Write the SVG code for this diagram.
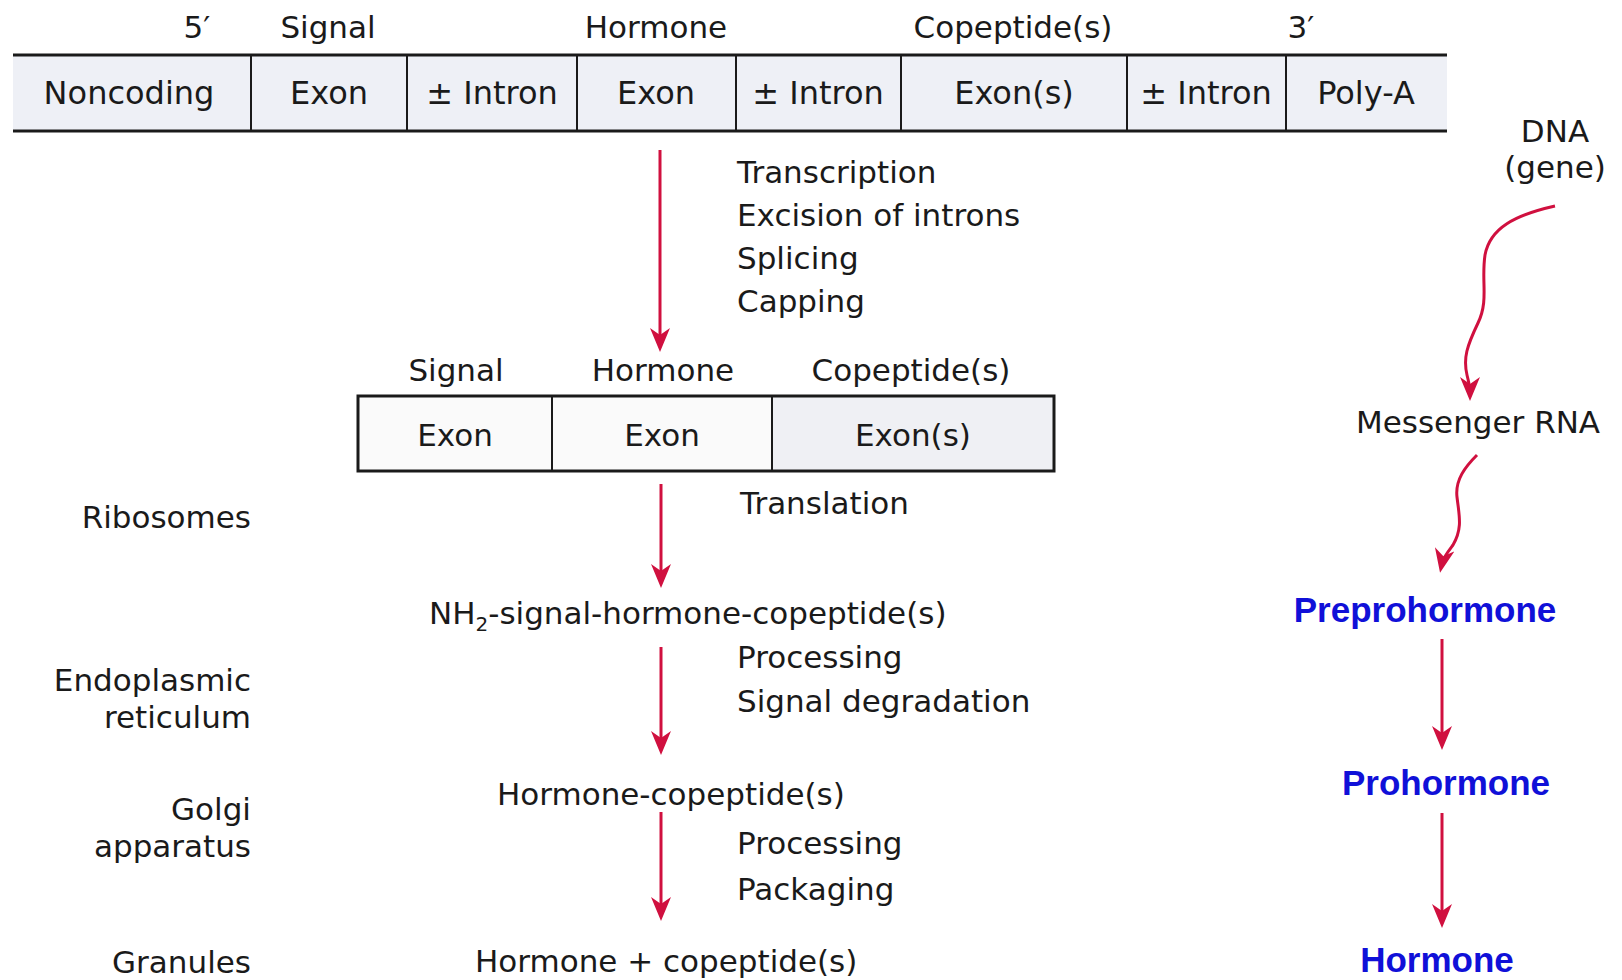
<svg xmlns="http://www.w3.org/2000/svg" width="1622" height="980" viewBox="0 0 1622 980">
<style>
.t{font-family:"DejaVu Sans","Liberation Sans",sans-serif;font-size:31px;fill:#1a1a1a}
.r{font-size:32px}
.m{text-anchor:middle}
.e{text-anchor:end}
.b{font-family:"Liberation Sans",Arial,sans-serif;font-weight:bold;font-size:35px;fill:#1010d8}
.hl{stroke:#1a1a1a;stroke-width:3;fill:none}
.vl{stroke:#1a1a1a;stroke-width:2;fill:none}
.ar{stroke:#d0103f;stroke-width:3;fill:none;marker-end:url(#ah)}
</style>
<defs>
<marker id="ah" viewBox="0 0 24 20" refX="14" refY="10" markerWidth="24" markerHeight="20" markerUnits="userSpaceOnUse" orient="auto">
<path d="M0,0 L24,10 L0,20 L7,10 Z" fill="#d0103f"/>
</marker>
</defs>
<rect width="1622" height="980" fill="#ffffff"/>

<g id="dna-gene">
<rect x="13" y="55" width="1434" height="76" fill="#eef0f6"/>
<line class="hl" x1="13" y1="55" x2="1447" y2="55"/>
<line class="hl" x1="13" y1="131" x2="1447" y2="131"/>
<line class="vl" x1="251" y1="55" x2="251" y2="131"/>
<line class="vl" x1="407" y1="55" x2="407" y2="131"/>
<line class="vl" x1="577" y1="55" x2="577" y2="131"/>
<line class="vl" x1="736" y1="55" x2="736" y2="131"/>
<line class="vl" x1="901" y1="55" x2="901" y2="131"/>
<line class="vl" x1="1127" y1="55" x2="1127" y2="131"/>
<line class="vl" x1="1286" y1="55" x2="1286" y2="131"/>
<text class="t m" x="197" y="38">5′</text>
<text class="t m" x="328" y="38">Signal</text>
<text class="t m" x="656" y="38">Hormone</text>
<text class="t m" x="1013" y="38">Copeptide(s)</text>
<text class="t m" x="1301" y="38">3′</text>
<text class="t r m" x="129" y="104">Noncoding</text>
<text class="t r m" x="329" y="104">Exon</text>
<text class="t r m" x="492" y="104">± Intron</text>
<text class="t r m" x="656" y="104">Exon</text>
<text class="t r m" x="818" y="104">± Intron</text>
<text class="t r m" x="1014" y="104">Exon(s)</text>
<text class="t r m" x="1206" y="104">± Intron</text>
<text class="t r m" x="1366" y="104">Poly-A</text>
</g>

<g id="transcription-steps">
<text class="t" x="737" y="183">Transcription</text>
<text class="t" x="737" y="226">Excision of introns</text>
<text class="t" x="737" y="269">Splicing</text>
<text class="t" x="737" y="312">Capping</text>
</g>

<g id="mrna">
<rect x="358" y="396" width="414" height="75" fill="#fafafa"/>
<rect x="772" y="396" width="282" height="75" fill="#eff0f4"/>
<rect x="358" y="396" width="696" height="75" class="hl"/>
<line class="vl" x1="552" y1="396" x2="552" y2="471"/>
<line class="vl" x1="772" y1="396" x2="772" y2="471"/>
<text class="t m" x="456" y="381">Signal</text>
<text class="t m" x="663" y="381">Hormone</text>
<text class="t m" x="911" y="381">Copeptide(s)</text>
<text class="t m" x="455" y="446">Exon</text>
<text class="t m" x="662" y="446">Exon</text>
<text class="t m" x="913" y="446">Exon(s)</text>
</g>

<g id="translation-label">
<text class="t" x="740" y="514">Translation</text>
</g>

<g id="preprohormone-seq">
<text class="t" x="429" y="624">NH<tspan font-size="20" dy="7">2</tspan><tspan dy="-7">-signal-hormone-copeptide(s)</tspan></text>
</g>

<g id="processing-1">
<text class="t" x="737" y="668">Processing</text>
<text class="t" x="737" y="712">Signal degradation</text>
</g>

<g id="prohormone-seq">
<text class="t" x="497" y="805">Hormone-copeptide(s)</text>
</g>

<g id="processing-2">
<text class="t" x="737" y="854">Processing</text>
<text class="t" x="737" y="900">Packaging</text>
</g>

<g id="granule-content">
<text class="t" x="475" y="972">Hormone + copeptide(s)</text>
</g>

<g id="locations">
<text class="t e" x="251" y="528">Ribosomes</text>
<text class="t e" x="251" y="691">Endoplasmic</text>
<text class="t e" x="251" y="728">reticulum</text>
<text class="t e" x="251" y="820">Golgi</text>
<text class="t e" x="251" y="857">apparatus</text>
<text class="t e" x="251" y="973">Granules</text>
</g>

<g id="dna-label">
<text class="t m" x="1555" y="142">DNA</text>
<text class="t m" x="1555" y="178">(gene)</text>
</g>
<g id="messenger-rna">
<text class="t m" x="1478" y="433">Messenger RNA</text>
</g>
<g id="preprohormone"><text class="b m" x="1425" y="622">Preprohormone</text></g>
<g id="prohormone"><text class="b m" x="1446" y="795">Prohormone</text></g>
<g id="hormone"><text class="b m" x="1437" y="972">Hormone</text></g>

<g id="connectors">
<line class="ar" x1="660" y1="150" x2="660" y2="342"/>
<line class="ar" x1="661" y1="484" x2="661" y2="578"/>
<line class="ar" x1="661" y1="647" x2="661" y2="745"/>
<line class="ar" x1="661" y1="812" x2="661" y2="911"/>
<line class="ar" x1="1442" y1="639" x2="1442" y2="740"/>
<line class="ar" x1="1442" y1="813" x2="1442" y2="918"/>
<path class="ar" d="M1555,206 C1515,215 1490,228 1485,255 C1481,282 1489,300 1478,323 C1467,346 1463,358 1467,375 C1469,383 1470,387 1470,391"/>
<path class="ar" d="M1477,455 C1465,467 1455,480 1457,497 C1459,515 1463,528 1453,545 C1447,553 1443,558 1442,563"/>
</g>
</svg>
